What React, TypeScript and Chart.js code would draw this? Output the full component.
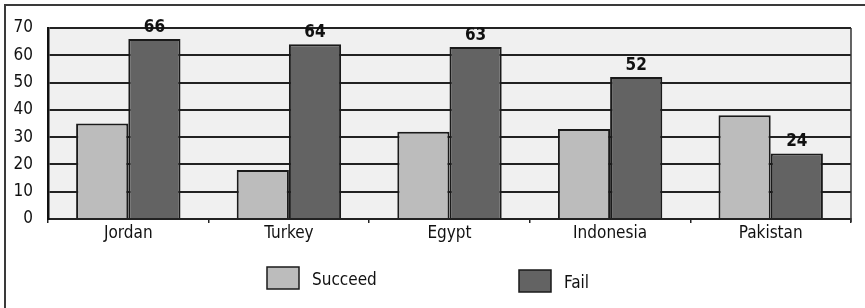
import React, { useEffect, useRef } from "react";
import { Chart, registerables } from "chart.js";

Chart.register(...registerables);

const categories = ["Jordan", "Turkey", "Egypt", "Indonesia", "Pakistan"];
const succeedValues = [35, 18, 32, 33, 38];
const failValues = [66, 64, 63, 52, 24];
const yTicks = [0, 10, 20, 30, 40, 50, 60, 70];
const seriesNames = ["Succeed", "Fail"];

const FONT = "'Liberation Sans Narrow', 'DejaVu Sans Condensed', sans-serif";
const SUCCEED_COLOR = "#bcbcbc";
const FAIL_COLOR = "#636363";
const EDGE = "#1a1a1a";

const bgPlugin = {
  id: "plotBg",
  beforeDraw(chart: any) {
    const { ctx, chartArea } = chart;
    ctx.save();
    ctx.fillStyle = "#f0f0f0";
    ctx.fillRect(chartArea.left, chartArea.top, chartArea.right - chartArea.left, chartArea.bottom - chartArea.top);
    ctx.restore();
  },
  afterDraw(chart: any) {
    const { ctx, chartArea } = chart;
    ctx.save();
    ctx.strokeStyle = "#333";
    ctx.lineWidth = 1.5;
    ctx.beginPath();
    ctx.moveTo(chartArea.right, chartArea.top);
    ctx.lineTo(chartArea.right, chartArea.bottom + 3);
    ctx.stroke();

    const meta = chart.getDatasetMeta(1);
    ctx.fillStyle = "#111";
    ctx.font = `bold 17px ${FONT}`;
    ctx.textAlign = "center";
    ctx.textBaseline = "bottom";
    meta.data.forEach((bar: any, i: number) => {
      ctx.fillText(String(chart.data.datasets[1].data[i]), bar.x, bar.y - 3);
    });

    const items = [
      { x: 267, y: 267 },
      { x: 519, y: 270 },
    ];
    chart.data.datasets.forEach((ds: any, i: number) => {
      const p = items[i];
      ctx.fillStyle = ds.backgroundColor;
      ctx.fillRect(p.x, p.y, 32, 22);
      ctx.strokeStyle = EDGE;
      ctx.lineWidth = 1.5;
      ctx.strokeRect(p.x, p.y, 32, 22);
      ctx.fillStyle = "#111";
      ctx.font = `17px ${FONT}`;
      ctx.textAlign = "left";
      ctx.textBaseline = "middle";
      ctx.fillText(ds.label, p.x + 45, p.y + 14);
    });
    ctx.restore();
  },
};

export default function App() {
  const ref = useRef<HTMLCanvasElement | null>(null);

  useEffect(() => {
    if (!ref.current) return;
    const chart = new Chart(ref.current, {
      type: "bar",
      data: {
        labels: categories,
        datasets: [
          {
            label: seriesNames[0],
            data: succeedValues,
            backgroundColor: SUCCEED_COLOR,
            borderColor: EDGE,
            borderWidth: 2,
            categoryPercentage: 0.65,
            barPercentage: 1,
          },
          {
            label: seriesNames[1],
            data: failValues,
            backgroundColor: FAIL_COLOR,
            borderColor: EDGE,
            borderWidth: 2,
            categoryPercentage: 0.65,
            barPercentage: 1,
          },
        ],
      },
      options: {
        animation: false,
        responsive: false,
        maintainAspectRatio: false,
        layout: { padding: { left: 0, top: 28, right: 14, bottom: 59 } },
        plugins: {
          legend: { display: false },
          tooltip: { enabled: false },
        },
        scales: {
          x: {
            offset: true,
            grid: {
              display: true,
              offset: true,
              drawOnChartArea: false,
              drawTicks: true,
              tickLength: 4,
              color: "#222",
              lineWidth: 1.5,
            },
            border: { display: true, color: "#222", width: 2 },
            ticks: {
              color: "#111",
              font: { family: FONT, size: 17 },
              padding: 0,
              maxRotation: 0,
            },
            afterFit: (scale: any) => {
              scale.height = 30;
            },
          },
          y: {
            min: 0,
            max: 70,
            afterBuildTicks: (scale: any) => {
              scale.ticks = yTicks.map((v) => ({ value: v }));
            },
            grid: {
              color: "#222",
              lineWidth: 2,
              drawTicks: false,
            },
            border: { display: true, color: "#111", width: 2.5 },
            ticks: {
              color: "#111",
              font: { family: FONT, size: 17 },
              padding: 15,
            },
            afterFit: (scale: any) => {
              scale.width = 48;
            },
          },
        },
      },
      plugins: [bgPlugin],
    });
    return () => chart.destroy();
  }, []);

  return (
    <div style={{ position: "fixed", left: 0, top: 0, width: 865, height: 308, background: "#fff" }}>
      <div
        style={{
          position: "absolute",
          left: 4,
          top: 4,
          width: 900,
          height: 400,
          borderLeft: "2px solid #3a3a3a",
          borderTop: "2px solid #3a3a3a",
        }}
      />
      <canvas ref={ref} width={865} height={308} style={{ position: "absolute", left: 0, top: 0 }} />
    </div>
  );
}
